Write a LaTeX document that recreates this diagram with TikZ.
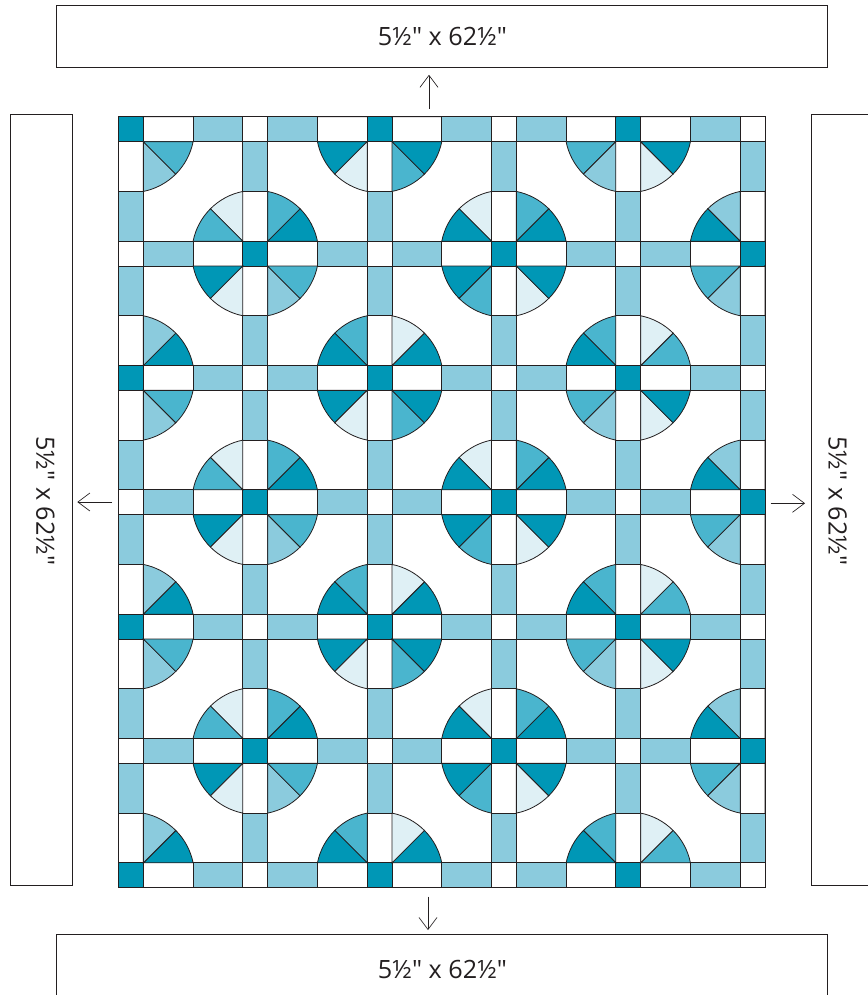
\documentclass[tikz,border=0pt]{standalone}
\usepackage{fontspec}
\newfontfamily\sizefont{Open Sans}
\usepackage{xcolor}
\usetikzlibrary{arrows.meta,positioning,calc}
\definecolor{quiltDark}{HTML}{0097B6}
\definecolor{quiltMid}{HTML}{4AB5CE}
\definecolor{quiltLight}{HTML}{8BCBDD}
\definecolor{quiltPale}{HTML}{DFF0F5}
\definecolor{quiltLine}{HTML}{231F20}
\newcommand{\crossing}[4]{% column, row, centre fill, arm fill
  \draw[patch,fill=#3] ({5*#1},{5*#2}) rectangle +(1,1);
  \draw[patch,fill=#4] ({5*#1+1},{5*#2}) rectangle +(2,1);
  \draw[patch,fill=#4] ({5*#1-2},{5*#2}) rectangle +(2,1);
  \draw[patch,fill=#4] ({5*#1},{5*#2+1}) rectangle +(1,2);
  \draw[patch,fill=#4] ({5*#1},{5*#2-2}) rectangle +(1,2);
}

\begin{document}
\begin{tikzpicture}[x=0.75pt,y=-0.75pt,
  patch/.style={draw=quiltLine,line width=0.6pt},
  panel/.style={draw=quiltLine,line width=0.6pt,inner sep=0pt,outer sep=0pt},
  sizelabel/.style={font=\sizefont\fontsize{18.9pt}{23pt}\selectfont,text=quiltLine,inner sep=0pt},
  arrowline/.style={draw=quiltLine,line width=0.5pt,
    -{Straight Barb[length=9pt,width=13.5pt,line width=0.5pt]}}]
\useasboundingbox (0,0) rectangle (867,995);
% border strips
\node[panel,minimum width=578.25pt,minimum height=46.5pt] (topPanel) at (442,36.3) {};
\node[panel,minimum width=578.25pt,minimum height=46.5pt] (bottomPanel) at (442,965.3) {};
\node[panel,minimum width=46.5pt,minimum height=578.25pt] (leftPanel) at (41,499.5) {};
\node[panel,minimum width=46.5pt,minimum height=578.25pt] (rightPanel) at (842.7,500) {};
\node[sizelabel] (topLabel) at (442.5,36.5) {5½" x 62½"};
\node[sizelabel] (bottomLabel) at (442.5,969.5) {5½" x 62½"};
\node[sizelabel,rotate=-90] (leftLabel) at (45.5,501) {5½" x 62½"};
\node[sizelabel,rotate=-90] (rightLabel) at (837.5,501) {5½" x 62½"};
\coordinate (topTail) at (429,109);
\coordinate (bottomTail) at (428,896.5);
\coordinate (leftTail) at (112,502);
\coordinate (rightTail) at (770.7,503.3);
\draw[arrowline,shorten >=5.6pt] (topTail) -- (topTail |- topPanel.south);
\draw[arrowline,shorten >=3.2pt] (bottomTail) -- (bottomTail |- bottomPanel.north);
\draw[arrowline,shorten >=4pt] (leftTail) -- (leftTail -| leftPanel.east);
\draw[arrowline,shorten >=5pt] (rightTail) -- (rightTail -| rightPanel.west);
% quilt top
\begin{scope}[shift={(118.5,887.7)},x=18.65pt,y=18.65pt]
\begin{scope}
\clip (0,0) rectangle (26,31);
\foreach \col/\darkrows/\whiterows/\wedges in {
  0/{0,2,4,6}/{1,3,5}/{quiltDark,quiltLight,white,white,white,white,quiltLight,quiltMid},
  1/{1,3,5}/{0,2,4,6}/{quiltDark,quiltMid,quiltPale,quiltMid,quiltDark,quiltPale,quiltLight,quiltMid},
  2/{0,2,4,6}/{1,3,5}/{quiltDark,quiltPale,quiltMid,quiltDark,quiltDark,quiltPale,quiltMid,quiltDark},
  3/{1,3,5}/{0,2,4,6}/{quiltDark,quiltMid,quiltPale,quiltDark,quiltDark,quiltMid,quiltPale,quiltDark},
  4/{0,2,4,6}/{1,3,5}/{quiltMid,quiltPale,quiltMid,quiltDark,quiltMid,quiltLight,quiltPale,quiltDark},
  5/{1,3,5}/{0,2,4,6}/{white,white,quiltLight,quiltDark,quiltMid,quiltLight,white,white}}{
  \foreach \row in \whiterows {\crossing{\col}{\row}{white}{quiltLight}}
  \foreach \row in \darkrows {
    \crossing{\col}{\row}{quiltDark}{white}
    \foreach \shade [count=\n from 0] in \wedges {
      \pgfmathsetmacro\diag{45+90*int(\n/2)}
      \pgfmathsetmacro\ang{90*int(\n/2)+ifthenelse(mod(\n,2)==1,45,11.31)}
      \draw[patch,fill=\shade] ({5*\col+0.5},{5*\row+0.5}) ++(\diag:0.7071)
        -- ($({5*\col+0.5},{5*\row+0.5})+(\ang:2.5495)$)
        arc[start angle=\ang,end angle=\ang+33.69,radius=2.5495] -- cycle;
    }
  }
}
\end{scope}
\draw[patch] (0,0) rectangle (26,31);
\end{scope}
\end{tikzpicture}
\end{document}
